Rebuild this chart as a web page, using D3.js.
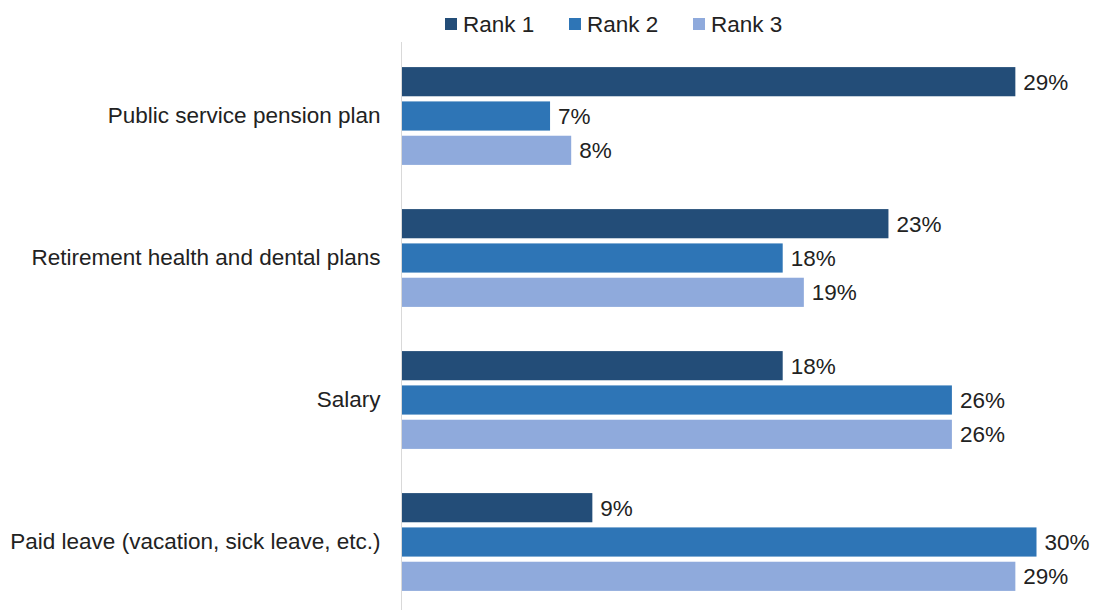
<!DOCTYPE html>
<html>
<head>
<meta charset="utf-8">
<script src="https://cdn.jsdelivr.net/npm/d3@7"></script>
<style>
  html, body { margin: 0; padding: 0; background: #fff; }
  svg text { font-family: "Liberation Sans", Arial, sans-serif; fill: #222; }
</style>
</head>
<body>
<svg id="chart" width="1096" height="610"></svg>
<script>
// Benefit categories, top to bottom
const categories = [
  "Public service pension plan",
  "Retirement health and dental plans",
  "Salary",
  "Paid leave (vacation, sick leave, etc.)"
];
const seriesNames = ["Rank 1", "Rank 2", "Rank 3"];
// Share of respondents (%) per rank, in category order
const rank1 = [29, 23, 18, 9];
const rank2 = [7, 18, 26, 30];
const rank3 = [8, 19, 26, 29];
const seriesValues = [rank1, rank2, rank3];
const colors = ["#234d78", "#2e75b6", "#8faadc"];

const fontSize = "22.5px";
const svg = d3.select("#chart");

const x = d3.scaleLinear().domain([0, 30]).range([402, 1036.5]);
const y0 = d3.scaleBand().domain(categories).range([45, 613])
  .paddingInner(0.275).paddingOuter(0.1375);
const y1 = d3.scaleBand().domain(seriesNames).range([0, y0.bandwidth()])
  .paddingInner(0.15).paddingOuter(0.075);
const color = d3.scaleOrdinal().domain(seriesNames).range(colors);

// Category axis along the left edge of the bars
const yAxis = svg.append("g")
  .attr("transform", `translate(${x(0) - 0.5},0)`)
  .call(d3.axisLeft(y0).tickSize(0).tickPadding(21));
yAxis.select(".domain").attr("stroke", "#d9d9d9").attr("stroke-width", 1)
  .attr("d", `M0,42V610`);
yAxis.selectAll("text")
  .style("font-family", '"Liberation Sans", Arial, sans-serif')
  .style("font-size", fontSize).attr("fill", "#222");

const rows = categories.map((c, i) => ({
  category: c,
  values: seriesNames.map((s, j) => ({ series: s, value: seriesValues[j][i] }))
}));

const groups = svg.append("g").selectAll("g").data(rows).join("g")
  .attr("transform", d => `translate(0,${y0(d.category)})`);

groups.selectAll("rect").data(d => d.values).join("rect")
  .attr("x", x(0))
  .attr("y", d => y1(d.series))
  .attr("width", d => x(d.value) - x(0))
  .attr("height", y1.bandwidth())
  .attr("fill", d => color(d.series));

groups.selectAll("text.val").data(d => d.values).join("text")
  .attr("class", "val")
  .attr("x", d => x(d.value) + 8)
  .attr("y", d => y1(d.series) + y1.bandwidth() / 2)
  .attr("dy", "0.35em")
  .style("font-size", fontSize)
  .text(d => d.value + "%");

// Legend
const legendX = [445, 569, 693];
const legend = svg.append("g").selectAll("g").data(seriesNames).join("g")
  .attr("transform", (d, i) => `translate(${legendX[i]},24)`);
legend.append("rect").attr("x", 0).attr("y", -6).attr("width", 12).attr("height", 12)
  .attr("fill", d => color(d));
legend.append("text").attr("x", 18).attr("dy", "0.35em")
  .style("font-size", fontSize).text(d => d);
</script>
</body>
</html>
